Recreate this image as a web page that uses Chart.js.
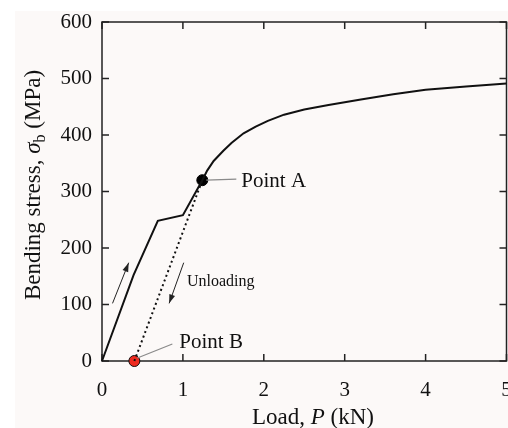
<!DOCTYPE html>
<html>
<head>
<meta charset="utf-8">
<script src="https://cdn.jsdelivr.net/npm/chart.js@4/dist/chart.umd.min.js"></script>
<style>
  html, body { margin: 0; padding: 0; background: #ffffff; overflow: hidden; }
  #wrap { width: 508px; height: 428px; position: relative; overflow: hidden; }
  #c { display: block; }
</style>
</head>
<body>
<div id="wrap"><canvas id="c" width="513" height="428"></canvas></div>
<script>
// ---- data ----
const loadX = [0, 0.39, 0.69, 1.0, 1.24, 1.3, 1.38, 1.5, 1.6, 1.75, 1.9, 2.05, 2.25, 2.5, 2.8, 3.2, 3.6, 4.0, 4.5, 5.0];
const loadY = [0, 152, 248, 258, 320, 337, 354, 372, 386, 403, 415, 425, 436, 445, 453, 463, 472, 480, 486, 491];
const unloadX = [0.40, 1.24];
const unloadY = [0, 320];
const pointA = [1.24, 320];
const pointB = [0.40, 0];
const xTicks = [0, 1, 2, 3, 4, 5];
const yTicks = [0, 100, 200, 300, 400, 500, 600];

const FONT = '"Liberation Serif", "DejaVu Serif", serif';

function pts(xs, ys) { return xs.map((x, i) => ({ x: x, y: ys[i] })); }

function arrow(ctx, x1, y1, x2, y2) {
  ctx.beginPath();
  ctx.moveTo(x1, y1);
  ctx.lineTo(x2, y2);
  ctx.stroke();
  const a = Math.atan2(y2 - y1, x2 - x1);
  const L = 9, W = 3;
  ctx.beginPath();
  ctx.moveTo(x2, y2);
  ctx.lineTo(x2 - L * Math.cos(a) + W * Math.sin(a), y2 - L * Math.sin(a) - W * Math.cos(a));
  ctx.lineTo(x2 - L * Math.cos(a) - W * Math.sin(a), y2 - L * Math.sin(a) + W * Math.cos(a));
  ctx.closePath();
  ctx.fill();
}

const decor = {
  id: 'decor',
  beforeDraw(chart) {
    const ctx = chart.ctx;
    ctx.save();
    ctx.fillStyle = '#ffffff';
    ctx.fillRect(0, 0, chart.width, chart.height);
    ctx.fillStyle = '#fcf9f8';
    ctx.fillRect(15, 11, chart.width - 15, chart.height - 11);
    ctx.restore();
  },
  beforeDatasetsDraw(chart) {
    const ctx = chart.ctx;
    const a = chart.chartArea;
    const xs = chart.scales.x, ys = chart.scales.y;
    ctx.save();
    ctx.strokeStyle = '#222222';
    ctx.lineWidth = 1.5;
    ctx.strokeRect(a.left, a.top, a.right - a.left, a.bottom - a.top);
    const tl = 7;
    ctx.beginPath();
    xTicks.forEach(v => {
      const p = xs.getPixelForValue(v);
      ctx.moveTo(p, a.bottom); ctx.lineTo(p, a.bottom - tl);
      ctx.moveTo(p, a.top); ctx.lineTo(p, a.top + tl);
    });
    yTicks.forEach(v => {
      const p = ys.getPixelForValue(v);
      ctx.moveTo(a.left, p); ctx.lineTo(a.left + tl, p);
      ctx.moveTo(a.right, p); ctx.lineTo(a.right - tl, p);
    });
    ctx.stroke();
    ctx.restore();
  },
  afterDatasetsDraw(chart) {
    const ctx = chart.ctx;
    const xs = chart.scales.x, ys = chart.scales.y;
    const X = v => xs.getPixelForValue(v), Y = v => ys.getPixelForValue(v);
    ctx.save();
    // leader lines
    ctx.strokeStyle = '#8a8a8a';
    ctx.lineWidth = 1.2;
    const ax = X(pointA[0]), ay = Y(pointA[1]);
    const bx = X(pointB[0]), by = Y(pointB[1]);
    ctx.beginPath();
    ctx.moveTo(ax + 4, ay); ctx.lineTo(ax + 34, ay - 1);
    ctx.moveTo(bx + 3, by - 3); ctx.lineTo(bx + 38, by - 17);
    ctx.stroke();
    // arrows
    ctx.strokeStyle = '#222222';
    ctx.fillStyle = '#222222';
    ctx.lineWidth = 1;
    arrow(ctx, X(0.13), Y(102), X(0.33), Y(174));
    arrow(ctx, X(1.01), Y(174), X(0.83), Y(102));
    // labels
    ctx.fillStyle = '#111111';
    ctx.textBaseline = 'alphabetic';
    ctx.textAlign = 'left';
    ctx.font = '21px ' + FONT;
    ctx.fillText('Point A', ax + 39, ay + 7);
    ctx.fillText('Point B', bx + 45, by - 13);
    ctx.font = '16px ' + FONT;
    ctx.fillText('Unloading', X(1.05), Y(133));
    // x title
    const TS = 23;
    ctx.font = TS + 'px ' + FONT;
    const p1 = 'Load, ', p3 = ' (kN)';
    const w1 = ctx.measureText(p1).width;
    ctx.font = 'italic ' + TS + 'px ' + FONT;
    const w2 = ctx.measureText('P').width;
    ctx.font = TS + 'px ' + FONT;
    const w3 = ctx.measureText(p3).width;
    let sx = 313 - (w1 + w2 + w3) / 2;
    const base = 424;
    ctx.fillText(p1, sx, base);
    ctx.font = 'italic ' + TS + 'px ' + FONT;
    ctx.fillText('P', sx + w1, base);
    ctx.font = TS + 'px ' + FONT;
    ctx.fillText(p3, sx + w1 + w2, base);
    // y title (rotated)
    ctx.save();
    ctx.translate(40, 185);
    ctx.rotate(-Math.PI / 2);
    const q1 = 'Bending stress, ', q4 = ' (MPa)';
    ctx.font = TS + 'px ' + FONT;
    const v1 = ctx.measureText(q1).width, v4 = ctx.measureText(q4).width;
    ctx.font = 'italic ' + TS + 'px ' + FONT;
    const v2 = ctx.measureText('σ').width;
    ctx.font = '16px ' + FONT;
    const v3 = ctx.measureText('b').width;
    let s = -(v1 + v2 + v3 + v4) / 2;
    ctx.font = TS + 'px ' + FONT;
    ctx.fillText(q1, s, 0);
    ctx.font = 'italic ' + TS + 'px ' + FONT;
    ctx.fillText('σ', s + v1, 0);
    ctx.font = '16px ' + FONT;
    ctx.fillText('b', s + v1 + v2, 5);
    ctx.font = TS + 'px ' + FONT;
    ctx.fillText(q4, s + v1 + v2 + v3, 0);
    ctx.restore();
    ctx.restore();
  }
};

new Chart(document.getElementById('c'), {
  type: 'scatter',
  data: {
    datasets: [
      {
        label: 'Loading',
        data: pts(loadX, loadY),
        showLine: true,
        borderColor: '#111111',
        borderWidth: 2,
        pointRadius: 0,
        tension: 0,
        clip: false
      },
      {
        label: 'Unloading',
        data: pts(unloadX, unloadY),
        showLine: true,
        borderColor: '#111111',
        borderWidth: 2,
        borderDash: [2, 3],
        pointRadius: 0,
        clip: false
      },
      {
        label: 'Point A',
        data: [{ x: pointA[0], y: pointA[1] }],
        pointRadius: 5.5,
        pointBackgroundColor: '#000000',
        pointBorderColor: '#000000',
        pointBorderWidth: 1,
        clip: false
      },
      {
        label: 'Point B',
        data: [{ x: pointB[0], y: pointB[1] }],
        pointRadius: 5.5,
        pointBackgroundColor: '#ee2a1f',
        pointBorderColor: '#111111',
        pointBorderWidth: 1,
        clip: false
      }
    ]
  },
  options: {
    responsive: false,
    animation: false,
    events: [],
    layout: { padding: { top: 22, right: 0, left: 0, bottom: 0 } },
    plugins: { legend: { display: false }, tooltip: { enabled: false }, title: { display: false } },
    scales: {
      x: {
        type: 'linear',
        min: 0, max: 5,
        grid: { display: false, drawTicks: true, tickLength: 17 },
        border: { display: false },
        afterBuildTicks: s => { s.ticks = xTicks.map(v => ({ value: v })); },
        ticks: {
          autoSkip: false, maxRotation: 0, padding: 0,
          color: '#111111',
          font: { family: FONT, size: 21 }
        },
        afterFit: s => { s.height = 67; }
      },
      y: {
        type: 'linear',
        min: 0, max: 600,
        grid: { display: false, drawTicks: true, tickLength: 10 },
        border: { display: false },
        afterBuildTicks: s => { s.ticks = yTicks.map(v => ({ value: v })); },
        ticks: {
          autoSkip: false, padding: 0,
          color: '#111111',
          font: { family: FONT, size: 21 }
        },
        afterFit: s => { s.width = 102; }
      }
    }
  },
  plugins: [decor]
});
</script>
</body>
</html>
